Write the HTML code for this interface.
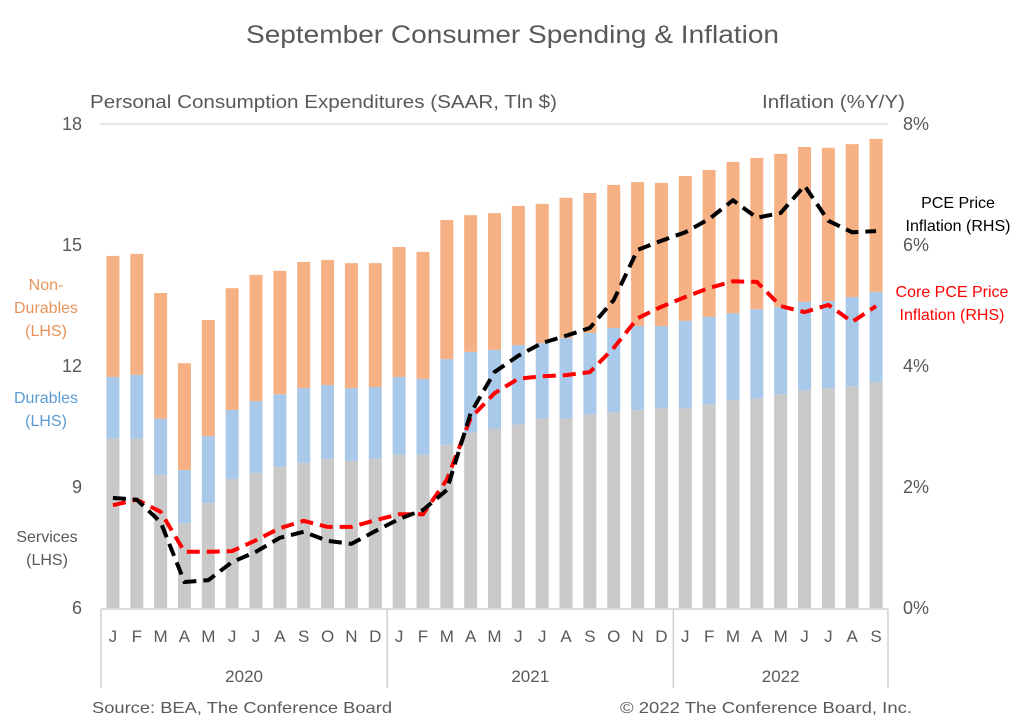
<!DOCTYPE html>
<html><head><meta charset="utf-8"><style>
body{margin:0;background:#fff;}
svg text{font-family:"Liberation Sans",sans-serif;fill:#595959;}
</style></head><body>
<svg id="chart" width="1027" height="720" xmlns="http://www.w3.org/2000/svg">
<text x="246" y="43" font-size="25" textLength="533" lengthAdjust="spacingAndGlyphs">September Consumer Spending &amp; Inflation</text>
<text x="90" y="108" font-size="18" textLength="467" lengthAdjust="spacingAndGlyphs">Personal Consumption Expenditures (SAAR, Tln $)</text>
<text x="762" y="108" font-size="18" textLength="143" lengthAdjust="spacingAndGlyphs">Inflation (%Y/Y)</text>
<line x1="100" y1="124" x2="888" y2="124" stroke="#d9d9d9" stroke-width="1.2"/>
<g id="bars"></g><g id="lines"></g><g id="axes"></g>
<text font-size="16" style="fill:#e8935a" text-anchor="middle"><tspan x="46" y="290">Non-</tspan><tspan x="46" y="313">Durables</tspan><tspan x="46" y="336">(LHS)</tspan></text>
<text font-size="16" style="fill:#5b9bd5" text-anchor="middle"><tspan x="46" y="403">Durables</tspan><tspan x="46" y="426">(LHS)</tspan></text>
<text font-size="16" text-anchor="middle"><tspan x="47" y="542">Services</tspan><tspan x="47" y="565">(LHS)</tspan></text>
<text font-size="16" style="fill:#000" text-anchor="middle"><tspan x="958" y="208">PCE Price</tspan><tspan x="958" y="231">Inflation (RHS)</tspan></text>
<text font-size="16" style="fill:#ff0000" text-anchor="middle"><tspan x="952" y="297">Core PCE Price</tspan><tspan x="952" y="320">Inflation (RHS)</tspan></text>
<text x="92" y="713" font-size="16" textLength="300" lengthAdjust="spacingAndGlyphs">Source: BEA, The Conference Board</text>
<text x="620" y="713" font-size="16" textLength="292" lengthAdjust="spacingAndGlyphs">© 2022 The Conference Board, Inc.</text>
</svg>
<script>
const months=["J","F","M","A","M","J","J","A","S","O","N","D","J","F","M","A","M","J","J","A","S","O","N","D","J","F","M","A","M","J","J","A","S"];
const years=["2020","2021","2022"];
const services=[10.2,10.2,9.3,8.1,8.6,9.2,9.35,9.5,9.6,9.7,9.65,9.7,9.8,9.8,10.05,10.35,10.45,10.55,10.7,10.7,10.8,10.85,10.9,10.95,10.95,11.05,11.15,11.2,11.3,11.4,11.45,11.5,11.6];
const durablesTop=[11.73,11.78,10.69,9.42,10.26,10.91,11.13,11.3,11.45,11.53,11.45,11.48,11.73,11.68,12.17,12.35,12.4,12.52,12.57,12.69,12.82,12.94,12.99,12.99,13.12,13.22,13.31,13.41,13.46,13.59,13.61,13.71,13.84];
const totalTop=[14.73,14.78,13.81,12.07,13.14,13.93,14.26,14.36,14.58,14.63,14.55,14.55,14.95,14.83,15.62,15.74,15.79,15.97,16.02,16.17,16.29,16.49,16.56,16.54,16.71,16.86,17.06,17.16,17.26,17.43,17.41,17.5,17.63];
const pce=[1.82,1.79,1.42,0.43,0.46,0.76,0.93,1.16,1.26,1.11,1.06,1.27,1.47,1.62,1.95,3.22,3.9,4.17,4.38,4.5,4.63,5.09,5.92,6.07,6.21,6.43,6.74,6.45,6.53,6.98,6.4,6.21,6.23];
const corePce=[1.7,1.79,1.59,0.93,0.93,0.94,1.12,1.32,1.44,1.34,1.34,1.45,1.55,1.55,2.12,3.14,3.55,3.79,3.83,3.85,3.9,4.3,4.79,4.98,5.14,5.29,5.4,5.39,4.99,4.89,5.01,4.73,4.99];
const leftTicks=[6,9,12,15,18];
const rightTicks=[0,2,4,6,8];
const NS="http://www.w3.org/2000/svg";
const x0=101,x1=888,n=months.length,step=(x1-x0)/n;
const X=i=>x0+step*(i+0.5);
const yL=v=>608-(v-6)*(484/12);
const yR=v=>608-v*(484/8);
function mk(tag,attrs,parent){const e=document.createElementNS(NS,tag);for(const k in attrs)e.setAttribute(k,attrs[k]);parent.appendChild(e);return e;}
const gb=document.getElementById('bars'),gl=document.getElementById('lines'),ga=document.getElementById('axes');
const bw=13;
for(let i=0;i<n;i++){
 let r=mk('rect',{x:X(i)-bw/2,y:yL(services[i]),width:bw,height:yL(6)-yL(services[i]),fill:'#c9c9c9'},gb);
 
 
 r=mk('rect',{x:X(i)-bw/2,y:yL(durablesTop[i]),width:bw,height:yL(services[i])-yL(durablesTop[i]),fill:'#a9c9ea'},gb);
 
 
 r=mk('rect',{x:X(i)-bw/2,y:yL(totalTop[i]),width:bw,height:yL(durablesTop[i])-yL(totalTop[i]),fill:'#f5b184'},gb);
 
 
}
let p=mk('polyline',{points:corePce.map((v,i)=>X(i)+','+yR(v)).join(' '),fill:'none',stroke:'#ff0000','stroke-width':4,'stroke-dasharray':'13 7'},gl);


p=mk('polyline',{points:pce.map((v,i)=>X(i)+','+yR(v)).join(' '),fill:'none',stroke:'#000','stroke-width':4,'stroke-dasharray':'13 7'},gl);


let l=mk('line',{x1:x0,y1:609,x2:x1,y2:609,stroke:'#d0d0d0','stroke-width':1.5},ga);


for(const v of leftTicks){const t=mk('text',{x:82,y:yL(v)+6,'text-anchor':'end','font-size':18},ga);t.textContent=v;
 
 }
for(const v of rightTicks){const t=mk('text',{x:903,y:yR(v)+6,'font-size':18},ga);t.textContent=v+'%';
 
 }
for(let i=0;i<n;i++){const t=mk('text',{x:X(i),y:642,'text-anchor':'middle','font-size':17},ga);t.textContent=months[i];
 
 }
const seps=[0,12,24,33];
for(const s of seps){const e=mk('line',{x1:x0+s*step,y1:609,x2:x0+s*step,y2:688,stroke:'#d0d0d0','stroke-width':1.5},ga);
 
 }
for(let k=0;k<years.length;k++){const c=(x0+seps[k]*step+x0+seps[k+1]*step)/2;
 const t=mk('text',{x:c,y:682,'text-anchor':'middle','font-size':17},ga);t.textContent=years[k];
 
 }
</script>
</body></html>
